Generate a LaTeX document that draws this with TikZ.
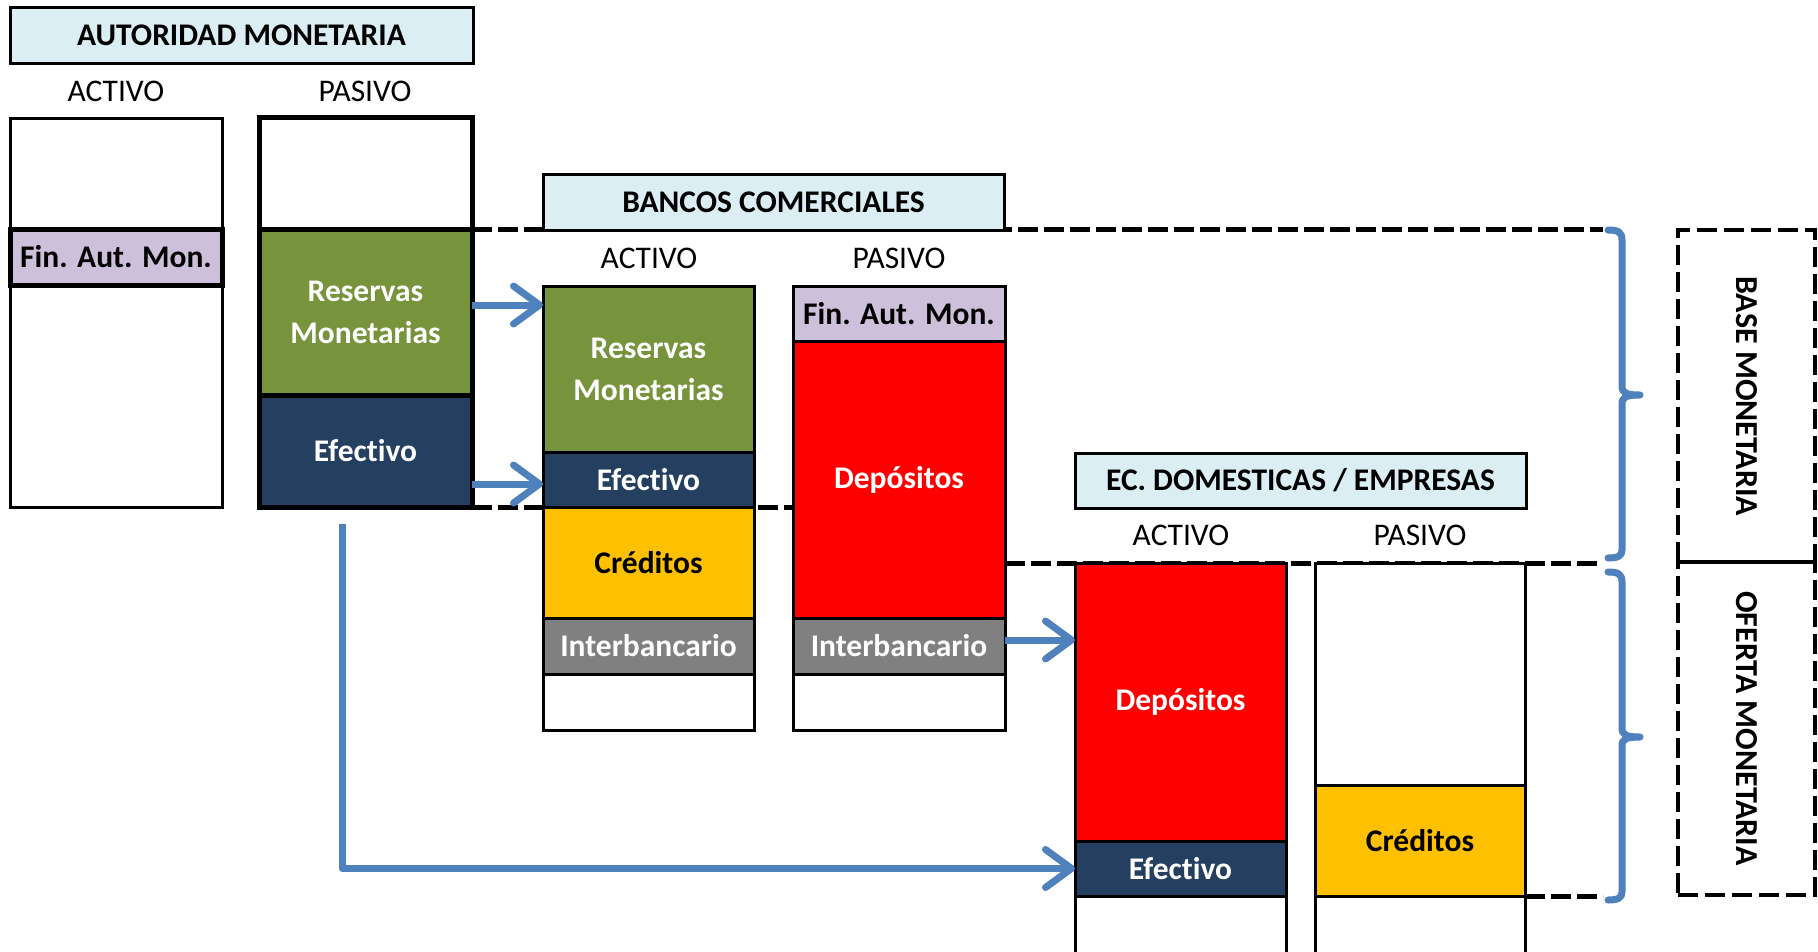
\documentclass[tikz,border=0pt]{standalone}
\usepackage{fontspec}
\setmainfont[Ligatures=NoCommon]{Carlito}
\usetikzlibrary{arrows.meta}
\definecolor{ttl}{HTML}{DAEEF3}
\definecolor{lav}{HTML}{CCC0DA}
\definecolor{grn}{HTML}{77933C}
\definecolor{nav}{HTML}{243F60}
\definecolor{redc}{HTML}{FF0000}
\definecolor{gold}{HTML}{FFC000}
\definecolor{gry}{HTML}{808080}
\definecolor{blu}{HTML}{4F81BD}
\begin{document}
\begin{tikzpicture}[x=1pt,y=-1pt,
 every node/.style={inner sep=0pt, outer sep=0pt},
 cell/.style={draw=black, line width=3pt, rectangle, anchor=north west, align=center, fill=white,
   font=\fontsize{31.5}{42}\selectfont\bfseries},
 heavycell/.style={cell, line width=5pt},
 ttlbox/.style={cell, fill=ttl, text=black},
 hdr/.style={font=\fontsize{31.5}{36}\selectfont},
 guide/.style={line width=5pt, dash pattern=on 20pt off 6pt},
 sidebox/.style={draw=black, line width=4.5pt, dash pattern=on 20pt off 7pt, rectangle, anchor=north west},
 sidetext/.style={rotate=-90, font=\fontsize{32}{36}\selectfont\bfseries},
 flow/.style={draw=blu, line width=7pt, line join=round, -{Straight Barb[length=26pt,width=38pt,round]}},
 bracestyle/.style={draw=blu, line width=7pt, line cap=round, line join=round}
]
\useasboundingbox (0,0) rectangle (1818,951);
\clip (0,0) rectangle (1818,951);

% ---------- guide coordinates ----------
\coordinate (bt) at (1603,229);
\coordinate (mt) at (1603,563);
\coordinate (lt) at (1603,896);
\coordinate (r1) at (0,305);
\coordinate (r2) at (0,484);
\coordinate (r3) at (0,640);
\coordinate (ls) at (342,524);

% ---------- dashed guide lines (behind) ----------
\draw[guide] (472,229) -- (bt);
\draw[guide] (472,507) -- (795,507);
\draw[guide] (1005,563) -- (mt);
\draw[guide] (1525,896) -- (lt);

% ---------- AUTORIDAD MONETARIA ----------
\node[ttlbox, minimum width=463pt, minimum height=56pt] (amt) at (10,7) {AUTORIDAD MONETARIA};
\node[hdr] (amha) at (116,91) {ACTIVO};
\node[hdr] (amhp) at (365,91) {PASIVO};
\node[cell, minimum width=212pt, minimum height=389pt] (amact) at (10,118) {};
\node[heavycell, fill=lav, minimum width=212pt, minimum height=56pt] (amfin) at (10,229) {Fin. Aut. Mon.};
\node[heavycell, minimum width=213pt, minimum height=112pt] (amtop) at (259,117) {};
\node[heavycell, fill=grn, text=white, minimum width=213pt, minimum height=166pt] (amres) at (259,229) {Reservas\\Monetarias};
\node[heavycell, fill=nav, text=white, minimum width=213pt, minimum height=112pt] (amef) at (259,395) {Efectivo};

% ---------- BANCOS COMERCIALES ----------
\node[ttlbox, minimum width=461pt, minimum height=56pt] (bct) at (543,174) {BANCOS COMERCIALES};
\node[hdr] (bcha) at (649,258) {ACTIVO};
\node[hdr] (bchp) at (899,258) {PASIVO};
\node[cell, fill=grn, text=white, minimum width=211pt, minimum height=166pt] (bcres) at (543,286) {Reservas\\Monetarias};
\node[cell, fill=nav, text=white, minimum width=211pt, minimum height=55pt] (bcef) at (543,452) {Efectivo};
\node[cell, fill=gold, text=black, minimum width=211pt, minimum height=111pt] (bccred) at (543,507) {Créditos};
\node[cell, fill=gry, text=white, minimum width=211pt, minimum height=56pt] (bcinta) at (543,618) {Interbancario};
\node[cell, minimum width=211pt, minimum height=56pt] (bcbla) at (543,674) {};
\node[cell, fill=lav, text=black, minimum width=212pt, minimum height=55pt] (bcfin) at (793,286) {Fin. Aut. Mon.};
\node[cell, fill=redc, text=white, minimum width=212pt, minimum height=277pt] (bcdep) at (793,341) {Depósitos};
\node[cell, fill=gry, text=white, minimum width=212pt, minimum height=56pt] (bcintp) at (793,618) {Interbancario};
\node[cell, minimum width=212pt, minimum height=56pt] (bcblp) at (793,674) {};

% ---------- EC. DOMESTICAS / EMPRESAS ----------
\node[ttlbox, minimum width=451pt, minimum height=55pt] (ect) at (1075,453) {EC. DOMESTICAS / EMPRESAS};
\node[hdr] (echa) at (1181,535) {ACTIVO};
\node[hdr] (echp) at (1420,535) {PASIVO};
\node[cell, fill=redc, text=white, minimum width=211pt, minimum height=278pt] (ecdep) at (1075,563) {Depósitos};
\node[cell, fill=nav, text=white, minimum width=211pt, minimum height=55pt] (ecef) at (1075,841) {Efectivo};
\node[cell, minimum width=211pt, minimum height=80pt] (ecbla) at (1075,896) {};
\node[cell, minimum width=210pt, minimum height=222pt] (ecblp) at (1315,563) {};
\node[cell, fill=gold, text=black, minimum width=210pt, minimum height=111pt] (eccred) at (1315,785) {Créditos};
\node[cell, minimum width=210pt, minimum height=80pt] (ecblp2) at (1315,896) {};

% ---------- side boxes ----------
\node[sidebox, minimum width=137pt, minimum height=332pt] (base) at (1678,230) {};
\node[sidetext] (basetxt) at (base.center) {BASE MONETARIA};
\node[sidebox, minimum width=137pt, minimum height=333pt] (ofer) at (1678,562) {};
\node[sidetext] (ofertxt) at (ofer.center) {OFERTA MONETARIA};

% ---------- braces ----------
\draw[bracestyle] (1608,230) .. controls (1618,230) and (1622,232) .. (1622,240) -- (1622,386)
  .. controls (1622,393) and (1626,395) .. (1640,395)
  .. controls (1626,395) and (1622,397) .. (1622,404) -- (1622,550)
  .. controls (1622,556) and (1618,558) .. (1608,558);
\draw[bracestyle] (1608,572) .. controls (1618,572) and (1622,574) .. (1622,582) -- (1622,728)
  .. controls (1622,735) and (1626,737) .. (1640,737)
  .. controls (1626,737) and (1622,739) .. (1622,746) -- (1622,892)
  .. controls (1622,898) and (1618,900) .. (1608,900);

% ---------- flows ----------
\draw[flow] (amres.east |- r1) -- (bcres.west |- r1);
\draw[flow] (amef.east |- r2) -- (bcef.west |- r2);
\draw[flow] (bcintp.east |- r3) -- (ecdep.west |- r3);
\draw[flow] (ls) |- (ecef.west);
\end{tikzpicture}
\end{document}
